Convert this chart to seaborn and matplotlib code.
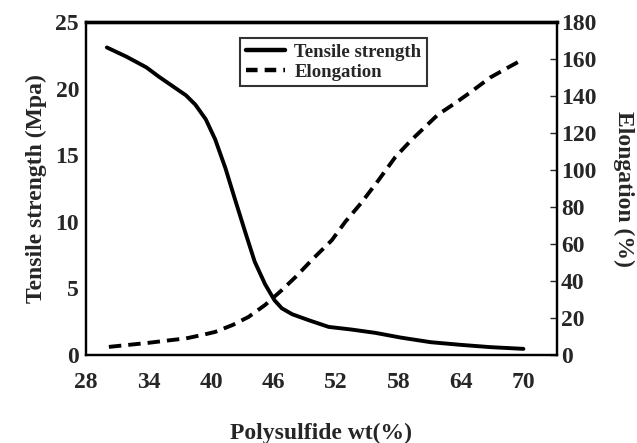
import matplotlib
matplotlib.use("Agg")
import matplotlib.pyplot as plt
import seaborn as sns
import pandas as pd
from matplotlib.lines import Line2D

sns.set_style("white")
plt.rcParams['font.family'] = ['Liberation Serif', 'DejaVu Serif']
plt.rcParams['font.weight'] = 'bold'

ts_x = [30, 31.9, 33.8, 35, 36.3, 37.6, 38.5, 39.5, 40.4, 41.4, 42.3, 43.3, 44.2, 45.2, 46.1,
        46.8, 47.8, 49.4, 51.3, 53.5, 55.8, 58.2, 61.1, 64, 66.8, 70]
ts_y = [23.1, 22.4, 21.6, 20.9, 20.2, 19.5, 18.8, 17.7, 16.2, 14.0, 11.7, 9.2, 7.0, 5.3, 4.1,
        3.5, 3.05, 2.6, 2.1, 1.9, 1.65, 1.3, 0.95, 0.75, 0.58, 0.45]

el_x = [30.2, 32.1, 34, 35.9, 37.6, 39.2, 40.4, 42.1, 43.6, 45.2, 46.8, 48.1, 49.8, 51.6, 52.9,
        54.4, 56.1, 57.7, 59.2, 60.5, 61.8, 63.4, 64.9, 66.8, 68.7, 70]
el_y = [4.3, 5.4, 6.5, 7.8, 8.9, 10.8, 12.4, 16.2, 20.5, 27, 35, 42, 52, 62, 72,
        82, 94.6, 107, 116, 123, 130, 136, 142, 150, 156, 160]

xticks = [28, 34, 40, 46, 52, 58, 64, 70]
ts_ticks = [0, 5, 10, 15, 20, 25]
el_ticks = [0, 20, 40, 60, 80, 100, 120, 140, 160, 180]

ts_df = pd.DataFrame({"x": ts_x, "y": ts_y})
el_df = pd.DataFrame({"x": el_x, "y": el_y})

fig = plt.figure(figsize=(6.37, 4.43), dpi=100)
ax = fig.add_axes([0.135, 0.199, 0.739, 0.751])
ax2 = ax.twinx()

sns.lineplot(data=ts_df, x="x", y="y", ax=ax, color="black", lw=2.8)
sns.lineplot(data=el_df, x="x", y="y", ax=ax2, color="black", lw=2.8, linestyle=(0, (3.2, 1.8)))

ax.set_xlim(28, 73.2)
ax.set_ylim(0, 25)
ax2.set_ylim(0, 180)

ax.set_xticks(range(28, 73, 3))
ax.set_xticklabels([str(t) if t in xticks else "" for t in range(28, 73, 3)])
ax.set_yticks(ts_ticks)
ax2.set_yticks(el_ticks)

fs = 17
ax.tick_params(axis='x', direction='in', length=5, width=1, pad=12, labelsize=fs, top=False)
ax.tick_params(axis='y', direction='in', length=0, pad=5, labelsize=fs)
ax2.tick_params(axis='y', direction='in', length=5, width=1, pad=3, labelsize=fs)

for a in (ax, ax2):
    for s in a.spines.values():
        s.set_visible(True)
        s.set_color("black")
        s.set_linewidth(1.6)
    a.spines['top'].set_linewidth(2.4)

ax.set_xlabel("Polysulfide wt(%)", fontsize=17, fontweight='bold', labelpad=22)
ax.set_ylabel("Tensile strength (Mpa)", fontsize=17, fontweight='bold', labelpad=6)
ax2.set_ylabel("Elongation (%)", fontsize=17, fontweight='bold', rotation=270, labelpad=27)

for lab in ax.get_xticklabels() + ax.get_yticklabels() + ax2.get_yticklabels():
    lab.set_fontweight('bold')

handles = [Line2D([0], [0], color='black', lw=3.2),
           Line2D([0], [0], color='black', lw=3.2, linestyle=(0, (2.6, 1.6)))]
leg = ax.legend(handles, ["Tensile strength", "Elongation"], loc='upper left',
                bbox_to_anchor=(0.327, 0.952), frameon=True, fancybox=False,
                prop={'weight': 'bold', 'size': 13.5}, handlelength=2.1,
                borderpad=0.3, labelspacing=0.15, handletextpad=0.5, borderaxespad=0)
leg.get_frame().set_edgecolor('black')
leg.get_frame().set_linewidth(1.5)

fig.savefig("out.png", dpi=100)
